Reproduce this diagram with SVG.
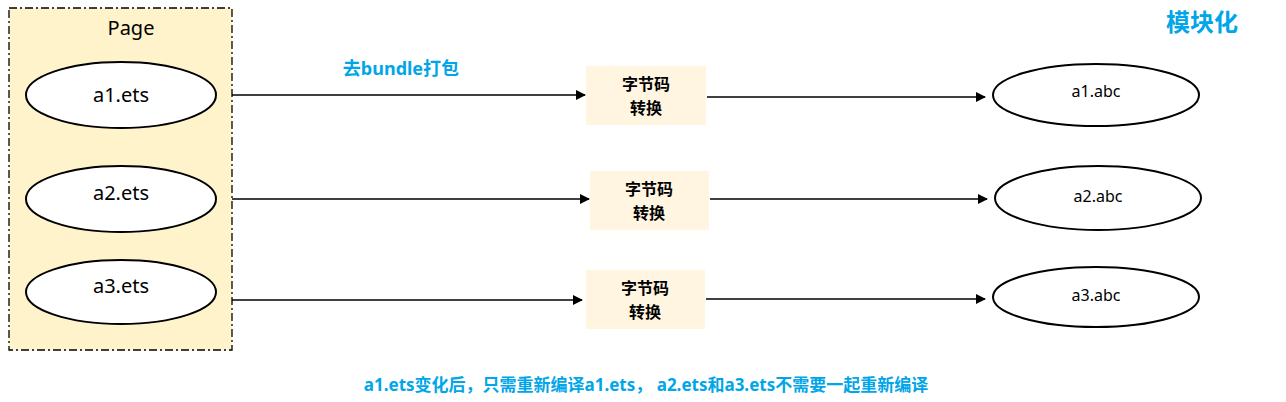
<svg xmlns="http://www.w3.org/2000/svg" width="1286" height="402" viewBox="0 0 1286 402">
<defs>
<marker id="ah" markerWidth="10" markerHeight="10" refX="9" refY="5" orient="auto" markerUnits="userSpaceOnUse"><path d="M0,0 L10,5 L0,10 Z" fill="#000"/></marker>
<style>
.e{fill:#fff;stroke:#000;stroke-width:2}
.t{font-family:"Noto Sans","Liberation Sans",sans-serif;font-size:20px;fill:#000;text-anchor:middle}
.s{font-family:"Noto Sans","Liberation Sans",sans-serif;font-size:16px;fill:#000;text-anchor:middle}
.b{fill:#fff5e1}
.bt{font-family:"Noto Sans CJK SC",sans-serif;font-size:16px;font-weight:bold;fill:#000;text-anchor:middle}
.bl{font-family:"Noto Sans","Noto Sans CJK SC",sans-serif;font-weight:bold;fill:#00a6e8}
.c{stroke:#000;stroke-width:1.5;fill:none;marker-end:url(#ah)}
</style>
</defs>
<rect width="1286" height="402" fill="#fff"/>
<g id="page">
<rect x="9" y="8" width="223" height="342" fill="#fff3cc" stroke="#000" stroke-width="1.3" stroke-dasharray="8,3,2,3"/>
<text class="t" x="131" y="35">Page</text>
</g>
<g id="a1ets"><ellipse class="e" cx="121" cy="95" rx="95" ry="33"/><text class="t" x="121" y="102">a1.ets</text></g>
<g id="a2ets"><ellipse class="e" cx="121" cy="199" rx="95" ry="33"/><text class="t" x="121" y="200">a2.ets</text></g>
<g id="a3ets"><ellipse class="e" cx="121" cy="292" rx="95" ry="32"/><text class="t" x="121" y="293">a3.ets</text></g>
<g id="conv1"><rect class="b" x="586" y="66" width="120" height="59"/><text class="bt" x="646" y="90">字节码</text><text class="bt" x="646" y="114">转换</text></g>
<g id="conv2"><rect class="b" x="590" y="171" width="119" height="59"/><text class="bt" x="649" y="195">字节码</text><text class="bt" x="649" y="219">转换</text></g>
<g id="conv3"><rect class="b" x="586" y="270" width="119" height="59"/><text class="bt" x="645" y="294">字节码</text><text class="bt" x="645" y="318">转换</text></g>
<g id="a1abc"><ellipse class="e" cx="1096" cy="95" rx="103" ry="31"/><text class="s" x="1096" y="97">a1.abc</text></g>
<g id="a2abc"><ellipse class="e" cx="1098" cy="198" rx="103" ry="32"/><text class="s" x="1098" y="202">a2.abc</text></g>
<g id="a3abc"><ellipse class="e" cx="1096" cy="297" rx="103" ry="30"/><text class="s" x="1096" y="301">a3.abc</text></g>
<g id="connectors">
<line class="c" x1="232" y1="95" x2="585" y2="95"/>
<line class="c" x1="707" y1="97" x2="985" y2="97"/>
<line class="c" x1="232" y1="199" x2="589" y2="199"/>
<line class="c" x1="710" y1="199" x2="987" y2="199"/>
<line class="c" x1="232" y1="300" x2="582" y2="300"/>
<line class="c" x1="706" y1="299" x2="985" y2="299"/>
</g>
<text class="bl" x="401" y="75" font-size="18" text-anchor="middle">去bundle打包</text>
<text class="bl" x="1202" y="31" font-size="24" text-anchor="middle">模块化</text>
<text class="bl" x="646" y="391" font-size="17" text-anchor="middle">a1.ets变化后，只需重新编译a1.ets， a2.ets和a3.ets不需要一起重新编译</text>
</svg>
